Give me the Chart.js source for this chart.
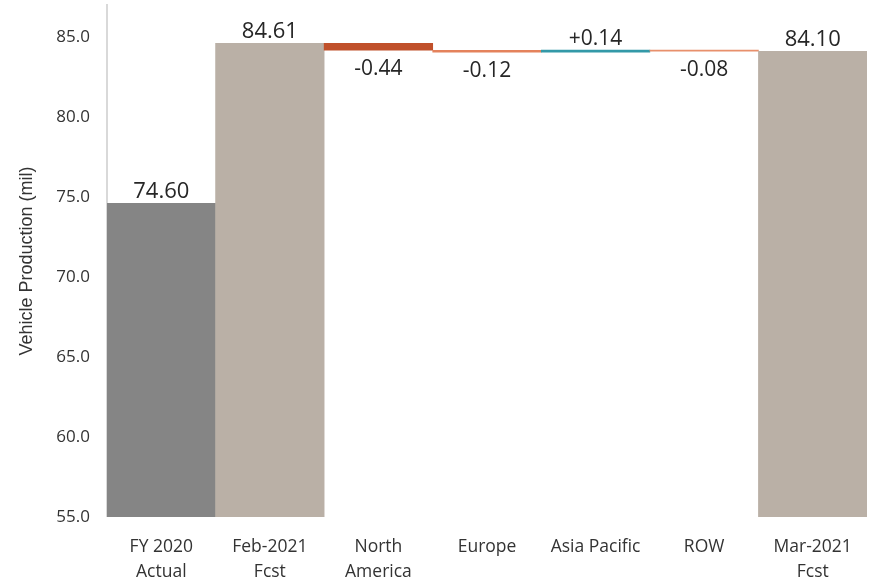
<!DOCTYPE html>
<html>
<head>
<meta charset="utf-8">
<script src="https://cdn.jsdelivr.net/npm/chart.js@4"></script>
<style>
  html, body { margin: 0; padding: 0; background: #fff; }
  #wrap { width: 870px; height: 581px; position: relative; }
</style>
</head>
<body>
<div id="wrap"><canvas id="chart_waterfall"></canvas></div>
<script>
// categories (multi-line labels)
var categories = [
    ['FY 2020', 'Actual'], ['Feb-2021', 'Fcst'], ['North', 'America'],
    'Europe', 'Asia Pacific', 'ROW', ['Mar-2021', 'Fcst']
];
// totals and steps, in millions
var startTotal = 74.60;
var febTotal = 84.61;
var regionDeltas = [-0.44, -0.12, 0.14, -0.08];
var marTotal = 84.10;
var pointLabels = ['74.60', '84.61', '-0.44', '-0.12', '+0.14', '-0.08', '84.10'];
var yTicks = [55, 60, 65, 70, 75, 80, 85];
var barColors = ['#858585', '#bab0a6', '#c0502a', '#e4825c', '#3399a8', '#e8906c', '#bab0a6'];
var axisMin = 55;
var axisMax = 87;

// build floating bars
var bars = [[axisMin, startTotal], [axisMin, febTotal]];
var running = febTotal;
regionDeltas.forEach(function (d) {
    bars.push([running, running + d]);
    running = running + d;
});
bars.push([axisMin, marTotal]);
var isTotal = [true, true, false, false, false, false, true];

var fontFamily = "'Open Sans', 'Noto Sans', sans-serif";

var chart_waterfall = new Chart(document.getElementById('chart_waterfall'), {
    type: 'bar',
    data: {
        labels: categories,
        datasets: [
            {
                label: 'Vehicle Production',
                data: bars,
                backgroundColor: barColors,
                borderWidth: 0,
                borderSkipped: false,
                barPercentage: 1,
                categoryPercentage: 1
            }
        ]
    },
    options: {
        animation: false,
        responsive: true,
        maintainAspectRatio: false,
        layout: {
            padding: { top: 5, right: 2, left: 0, bottom: -22 }
        },
        plugins: {
            legend: { display: false },
            tooltip: { enabled: false }
        },
        scales: {
            x: {
                grid: { display: false, drawTicks: false },
                border: { display: false },
                ticks: {
                    color: '#333',
                    padding: 18,
                    maxRotation: 0,
                    font: { family: fontFamily, size: 17.5, lineHeight: 1.43 }
                }
            },
            y: {
                min: axisMin,
                max: axisMax,
                grid: { display: false, drawTicks: false },
                border: { display: true, color: '#d9d9d9', width: 2 },
                afterBuildTicks: function (axis) {
                    axis.ticks = yTicks.map(function (v) { return { value: v }; });
                },
                afterFit: function (axis) {
                    axis.width = 107;
                    axis.paddingTop = 0;
                    axis.paddingBottom = 0;
                },
                ticks: {
                    color: '#333',
                    padding: 17,
                    font: { family: fontFamily, size: 17 },
                    callback: function (v) { return Number(v).toFixed(1); }
                },
                title: {
                    display: true,
                    text: 'Vehicle Production (mil)',
                    color: '#333',
                    padding: { top: 16, bottom: 0 },
                    font: { family: "'Liberation Sans', Arial, sans-serif", size: 18 }
                }
            }
        }
    },
    plugins: [{
        id: 'valueLabels',
        afterDatasetsDraw: function (chart) {
            var ctx = chart.ctx;
            var meta = chart.getDatasetMeta(0);
            ctx.save();
            ctx.fillStyle = '#262626';
            ctx.textAlign = 'center';
            ctx.textBaseline = 'alphabetic';
            meta.data.forEach(function (bar, i) {
                var top = Math.min(bar.y, bar.base);
                var bottom = Math.max(bar.y, bar.base);
                if (isTotal[i]) {
                    ctx.font = '22px ' + fontFamily;
                    ctx.fillText(pointLabels[i], bar.x, top - 5);
                } else if (regionDeltas[i - 2] < 0) {
                    ctx.font = '21px ' + fontFamily;
                    ctx.fillText(pointLabels[i], bar.x, bottom + 25);
                } else {
                    ctx.font = '21px ' + fontFamily;
                    ctx.fillText(pointLabels[i], bar.x, top - 5);
                }
            });
            ctx.restore();
        }
    }, {
        id: 'customPlugin',
        beforeDraw: function (chart) {
            var ctx = chart.canvas.getContext('2d');
            ctx.save();
            ctx.globalCompositeOperation = 'destination-over';
            ctx.fillStyle = 'white';
            ctx.fillRect(0, 0, chart.canvas.width, chart.canvas.height);
            ctx.restore();
        }
    }]
});
</script>
</body>
</html>
